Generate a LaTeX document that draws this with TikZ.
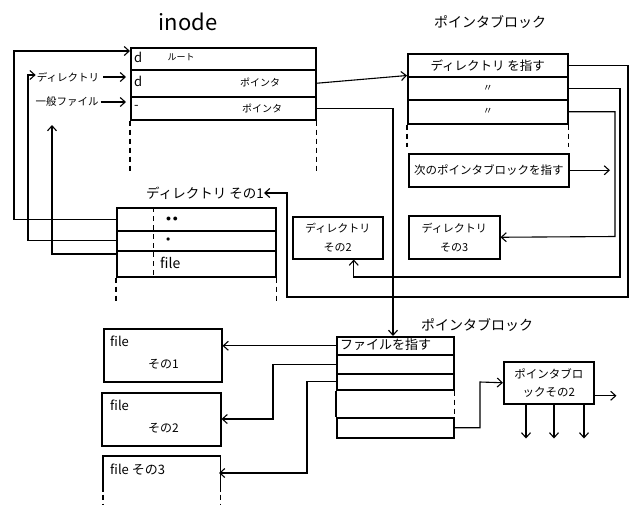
\documentclass[tikz,border=0pt]{standalone}
\usepackage{fontspec}
\newfontfamily\jp{Noto Sans CJK JP}
\usepackage{tikz}
\usetikzlibrary{arrows.meta, positioning, calc}

\begin{document}
\begin{tikzpicture}[
    x=1pt, y=-1pt,
    >={Straight Barb[length=5pt, width=9pt]},
    cell/.style={rectangle, draw, line width=1.5pt, inner sep=0pt,
                 anchor=north west, minimum width=#1},
    box/.style={cell=#1, align=center, font=\jp\fontsize{11}{19}\selectfont},
    link/.style={line width=1.1pt},
    gap/.style={line width=1.2pt, dash pattern=on 5pt off 4pt},
    lbl/.style={font=\jp\fontsize{#1}{#1}\selectfont, inner sep=0pt}
]
    \useasboundingbox (0,0) rectangle (630,507);

    % inode
    \node[lbl=22] (inodelbl) at (188,22) {inode};
    \node[cell=185pt, minimum height=22pt] (in1) at (130,47) {};
    \node[cell=185pt, minimum height=27pt] (in2) at (130,69) {};
    \node[cell=185pt, minimum height=23pt] (in3) at (130,96) {};
    \node[lbl=13, anchor=west] (in1d) at (134,57) {d};
    \node[lbl=9] (in1root) at (181,57) {ルート};
    \node[lbl=13, anchor=west] (in2d) at (134,81) {d};
    \node[lbl=10] (in2ptr) at (260,82) {ポインタ};
    \node[lbl=13, anchor=west] (in3d) at (134,107) {-};
    \node[lbl=10] (in3ptr) at (262,108) {ポインタ};
    \draw[gap] (in3.south west) -- ++(0,52);
    \draw[gap] (in3.south east) -- ++(0,52);

    % left labels
    \node[lbl=10.5] (dirlbl) at (68,77) {ディレクトリ};
    \node[lbl=10.5] (genlbl) at (67,102) {一般ファイル};
    \draw[link, ->, shorten <=4pt, shorten >=4pt] (dirlbl.east) -- (dirlbl.east -| in2.west);
    \draw[link, ->, shorten <=2pt, shorten >=4pt] (genlbl.east) -- (genlbl.east -| in3.west);

    % pointer block (top)
    \node[lbl=14] (pblbl) at (490,22) {ポインタブロック};
    \node[cell=160pt, minimum height=23pt, font=\jp\fontsize{12.5}{13}\selectfont] (pb1) at (407,53) {ディレクトリ を指す};
    \node[cell=160pt, minimum height=23pt, font=\jp\fontsize{10}{11}\selectfont] (pb2) at (407,76) {〃};
    \node[cell=160pt, minimum height=24pt, font=\jp\fontsize{10}{11}\selectfont] (pb3) at (407,99) {〃};
    \draw[gap] (pb3.south west) -- ++(0,22);
    \draw[gap] (pb3.south east) -- ++(0,22);
    \node[cell=160pt, minimum height=33pt, font=\jp\fontsize{11.5}{12}\selectfont] (nextpb) at (408,153) {次のポインタブロックを指す};

    % directories
    \node[box=91pt, minimum height=43pt] (dir3) at (408,215) {ディレクトリ\\その3};
    \node[box=90pt, minimum height=42pt] (dir2) at (292,216) {ディレクトリ\\その2};

    \node[lbl=13.5] (d1title) at (205,193) {ディレクトリ その1};
    \node[cell=159pt, minimum height=23pt] (d1) at (116,207) {};
    \node[cell=159pt, minimum height=20pt] (d2) at (116,230) {};
    \node[cell=159pt, minimum height=26pt] (d3) at (116,250) {};
    \node[lbl=10, anchor=west] (d1dots) at (166,219) {$\bullet\,\bullet$};
    \node[lbl=8, anchor=west] (d2dot) at (166,240) {$\bullet$};
    \node[lbl=14, anchor=west] (d3file) at (160,263) {file};
    \draw[gap, line width=0.8pt] (d1.north west -| 153,0) -- (d3.south west -| 153,0);
    \draw[gap] (d3.south west) -- ++(0,24);
    \draw[gap] (d3.south east) -- ++(0,24);

    % pointer block (bottom)
    \node[lbl=14] (fblbl) at (477,325) {ポインタブロック};
    \node[cell=117pt, minimum height=18pt] (fb1) at (336,336) {};
    \node[cell=117pt, minimum height=19pt] (fb2) at (336,354) {};
    \node[cell=117pt, minimum height=16pt] (fb3) at (336,373) {};
    \node[cell=117pt, minimum height=20pt] (fb4) at (336,417) {};
    \node[lbl=13, anchor=west] (fb1txt) at (340,345) {ファイルを指す};
    \draw[line width=1.5pt] (fb3.south west) -- (fb4.north west);
    \draw[gap] (fb3.south east) -- (fb4.north east);
    \node[box=90pt, minimum height=42pt, font=\jp\fontsize{11.5}{18}\selectfont] (pbb) at (503,361) {ポインタブロ\\ックその2};

    % files
    \node[cell=118pt, minimum height=53pt] (f1) at (103,328) {};
    \node[cell=119pt, minimum height=53pt] (f2) at (101,392) {};
    \node[cell=116pt, minimum height=34pt, draw=none] (f3) at (103,456) {};
    \draw[line width=1.5pt] (f3.south west) |- (f3.north east) -- (f3.south east);
    \draw[gap] ([yshift=-3pt]f3.south west) -- ++(0,10);
    \draw[gap] ([yshift=-3pt]f3.south east) -- ++(0,10);
    \node[lbl=13, anchor=west] (f1file) at (110,341) {file};
    \node[lbl=12, anchor=west] (f1no) at (148,364) {その1};
    \node[lbl=13, anchor=west] (f2file) at (110,405) {file};
    \node[lbl=12, anchor=west] (f2no) at (148,428) {その2};
    \node[lbl=13, anchor=west] (f3file) at (110,470) {file その3};

    % bend points
    \coordinate (lx1) at (14,51);
    \coordinate (lx2) at (28,75);
    \coordinate (lx3) at (52,125);
    \coordinate (rx1) at (628,297);
    \coordinate (lx0) at (287,297);
    \coordinate (rx2) at (620,277);
    \coordinate (rx3) at (615,236.5);
    \coordinate (nx) at (610,170);
    \coordinate (bx2) at (273,419);
    \coordinate (bx3) at (307,473);
    \coordinate (f3e) at (219,473);
    \coordinate (bx4) at (480,382);

    % connectors
    \draw[link, ->] (in2.east) -- ([yshift=2pt]pb1.south west);
    \draw[link, ->] (in3.east) -| ([xshift=57pt]fb1.north west);
    \draw[link, ->] (pb1.east) -| (rx1) -- (lx0) |- (d1title.east);
    \draw[link, ->] (pb2.east) -| (rx2) -| ([xshift=16pt]dir2.south);
    \draw[link, ->] (pb3.east) -| (rx3) -- (dir3.east);
    \draw[link, ->] (nextpb.east) -- (nextpb.east -| nx);

    \draw[link, ->] (d1.west) -| (lx1) -- (lx1 -| in1.west);
    \draw[link, ->] (d2.west) -| (lx2) -- ([xshift=-1pt]lx2 -| dirlbl.west);
    \draw[link, ->] ([yshift=-4pt]d3.north west) -| (lx3);

    \draw[link, ->] (fb1.west) -- (fb1.west -| f1.east);
    \draw[link, ->] (fb2.west) -| (bx2) -- (bx2 -| f2.east);
    \draw[link, ->] (fb3.west) -| (bx3) -- (f3e);
    \draw[link, ->] (fb4.east) -| (bx4) -- (pbb.west);

    \draw[link, ->] ([yshift=-13pt]pbb.east) -- ++(22,0);
    \foreach \dx in {23,51,81}
        \draw[link, ->] ([xshift=\dx pt]pbb.south west) -- ++(0,34);
\end{tikzpicture}
\end{document}
